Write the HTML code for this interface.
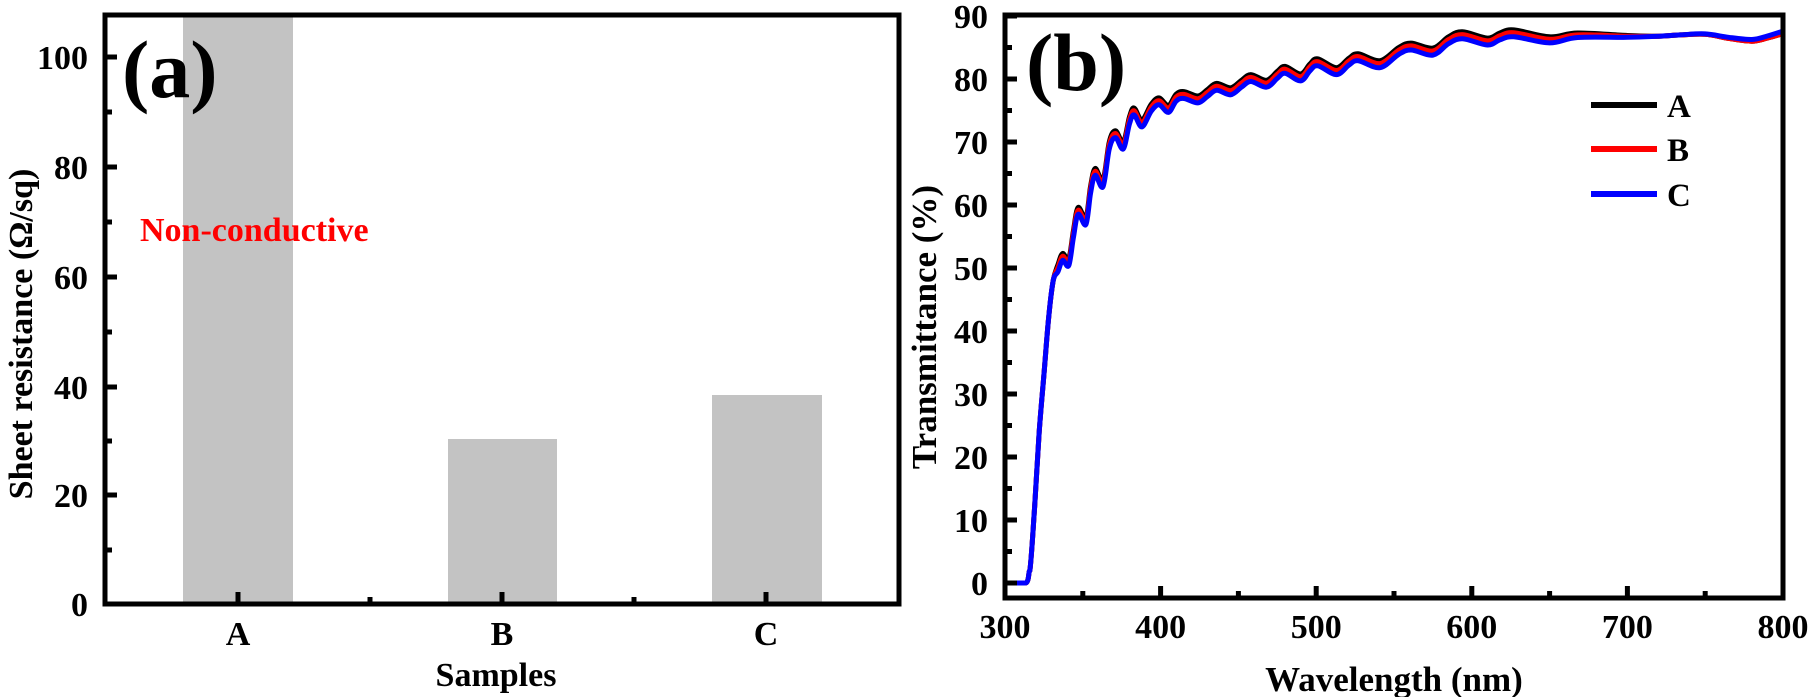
<!DOCTYPE html>
<html><head><meta charset="utf-8"><style>
html,body{margin:0;padding:0;background:#fff;}
svg{display:block;font-family:"Liberation Serif",serif;font-weight:bold;}
</style></head><body>
<svg id="s" width="1810" height="697" viewBox="0 0 1810 697" xmlns="http://www.w3.org/2000/svg">
<!-- Panel a -->
<rect x="183" y="15" width="110" height="589" fill="#c3c3c3"/>
<rect x="448" y="439" width="109" height="165" fill="#c3c3c3"/>
<rect x="712" y="395" width="110" height="209" fill="#c3c3c3"/>
<g stroke="#000" stroke-width="5" fill="none">
<rect x="105" y="15" width="794" height="589"/>
<path d="M105 57h12M105 167h12M105 277h12M105 387h12M105 495h12M105 112h7M105 222h7M105 332h7M105 441h7M105 550h7"/>
<path d="M238 604v-12M502 604v-12M766 604v-12M370 604v-7M634 604v-7"/>
</g>
<g font-size="34" text-anchor="end">
<text x="88" y="69">100</text><text x="88" y="179">80</text><text x="88" y="289">60</text>
<text x="88" y="399">40</text><text x="88" y="507">20</text><text x="88" y="616">0</text>
</g>
<g font-size="34" text-anchor="middle">
<text x="238" y="645">A</text><text x="502" y="645">B</text><text x="766" y="645">C</text>
<text x="496" y="686">Samples</text>
<text transform="translate(32,334) rotate(-90)">Sheet resistance (Ω/sq)</text>
</g>
<text x="122" y="97" font-size="82">(a)</text>
<text x="140" y="241" font-size="34" fill="#ff0000">Non-conductive</text>

<!-- Panel b -->
<g id="curves" fill="none" stroke-width="5" stroke-linejoin="round"></g>
<g stroke="#000" stroke-width="5" fill="none">
<rect x="1005" y="15" width="778" height="583"/>
<path id="bt" d=""/>
</g>
<g font-size="34" text-anchor="end" id="yl"></g>
<g font-size="34" text-anchor="middle" id="xl"></g>
<text x="1394" y="691" font-size="35" text-anchor="middle">Wavelength (nm)</text>
<text transform="translate(936,327) rotate(-90)" font-size="35" text-anchor="middle">Transmittance (%)</text>
<text x="1026" y="90" font-size="82">(b)</text>
<g stroke-width="6"><path d="M1591 105h66" stroke="#000"/><path d="M1591 149h66" stroke="#ff0000"/><path d="M1591 194h66" stroke="#0000ff"/></g>
<g font-size="33"><text x="1667" y="117">A</text><text x="1667" y="161">B</text><text x="1667" y="206">C</text></g>
</svg>
<script>
var NS="http://www.w3.org/2000/svg";
function X(l){return 1005+(l-300)*1.556;}
function Y(t){return 583-t*6.3;}
var bt="",yl=document.getElementById("yl"),xl=document.getElementById("xl");
for(var t=0;t<=90;t+=5){var y=Y(t);bt+="M1005 "+y+"h"+(t%10==0?12:7);
 if(t%10==0){var e=document.createElementNS(NS,"text");e.setAttribute("x",988);e.setAttribute("y",y+12);e.textContent=t;yl.appendChild(e);}}
for(var l=300;l<=800;l+=50){var x=X(l);bt+="M"+x+" 598v-"+(l%100==0?12:7);
 if(l%100==0){var e=document.createElementNS(NS,"text");e.setAttribute("x",x);e.setAttribute("y",638);e.textContent=l;xl.appendChild(e);}}
document.getElementById("bt").setAttribute("d",bt);
var P=[[300,0],[313,0],[316,2],[319,12],[322,24],[325,33],[328,42],[331,48],[334,50.5],[337,52.3],[341,51.5],[344,56],[347,59.6],[352,58],[355,63],[358,65.8],[363,64],[367,70],[371,71.8],[376,70],[380,74],[383,75.4],[388,73.5],[394,76],[399,77],[405,75.8],[410,77.6],[415,78],[424,77.3],[430,78.3],[436,79.3],[445,78.6],[452,79.8],[458,80.7],[468,79.8],[475,81.2],[480,82],[490,80.8],[496,82.4],[501,83.2],[513,81.8],[521,83.3],[527,84],[541,82.9],[553,85],[561,85.7],[575,84.9],[585,86.7],[594,87.5],[610,86.5],[618,87.3],[627,87.8],[650,86.7],[668,87.3],[700,86.9],[720,86.8],[734,87],[750,87],[765,86.2],[780,85.6],[790,86],[800,86.6]];
function off(l,k){ if(l<332)return 0; var d=0;
 if(l<640)d=-k; else if(l<720)d=-k*(720-l)/80;
 if(k>0.8&&l>740)d=(l-740)/60*1.0; if(k<0.8&&l>740)d=(l-740)/60*0.6; return d;}
function path(k){var pts=P.map(function(p){return [X(p[0]),Y(p[1]+off(p[0],k))];});
 var d="M"+pts[0][0]+" "+pts[0][1];
 for(var i=0;i<pts.length-1;i++){var p0=pts[Math.max(0,i-1)],p1=pts[i],p2=pts[i+1],p3=pts[Math.min(pts.length-1,i+2)];
  var c1x=p1[0]+(p2[0]-p0[0])/6,c1y=p1[1]+(p2[1]-p0[1])/6,c2x=p2[0]-(p3[0]-p1[0])/6,c2y=p2[1]-(p3[1]-p1[1])/6;
  if(i<2){c1y=p1[1];c2y=p2[1];}
  d+="C"+c1x.toFixed(1)+" "+c1y.toFixed(1)+" "+c2x.toFixed(1)+" "+c2y.toFixed(1)+" "+p2[0].toFixed(1)+" "+p2[1].toFixed(1);}
 return d;}
var g=document.getElementById("curves");
[["#000",0],["#ff0000",0.45],["#0000ff",1.1]].forEach(function(c){var e=document.createElementNS(NS,"path");e.setAttribute("d",path(c[1]));e.setAttribute("stroke",c[0]);g.appendChild(e);});
</script>
</body></html>
